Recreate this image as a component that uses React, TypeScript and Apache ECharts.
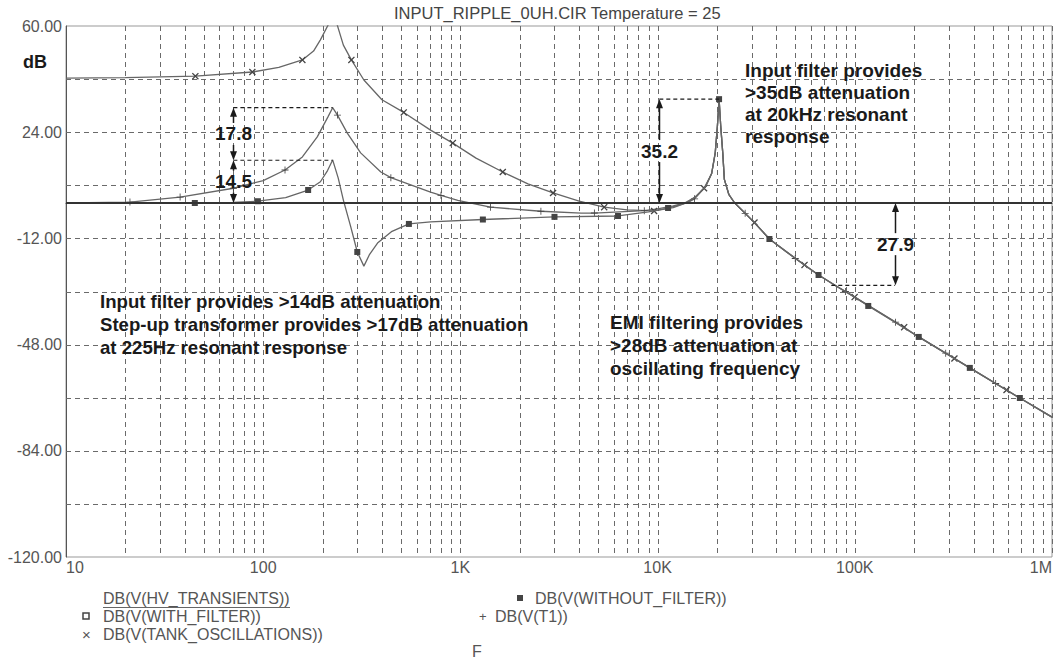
import React, { useEffect, useRef } from "react";
import * as echarts from "echarts";

const FONT = 'Arial, "Liberation Sans", Helvetica, sans-serif';

const TITLE = "INPUT_RIPPLE_0UH.CIR Temperature = 25";
const X_TICK_VALUES = [10, 100, 1000, 10000, 100000, 1000000];
const X_TICK_LABELS = ["10", "100", "1K", "10K", "100K", "1M"];
const Y_LABEL_VALUES = [-120, -84, -48, -12, 24, 60];
const Y_GRID_VALUES = [-102, -84, -66, -48, -30, -12, 6, 24, 42];
const DECADES = [10, 100, 1000, 10000, 100000];
const MINOR_STEPS = [2, 3, 4, 5, 6, 7, 8, 9, 10];

const NAME_HV = "DB(V(HV_TRANSIENTS))";
const NAME_WITH = "DB(V(WITH_FILTER))";
const NAME_WITHOUT = "DB(V(WITHOUT_FILTER))";
const NAME_T1 = "DB(V(T1))";
const NAME_TANK = "DB(V(TANK_OSCILLATIONS))";

const HV_TRANSIENTS: number[][] = [[10, 0], [1000000, 0]];
const WITH_FILTER: number[][] = [[10, 0], [1000000, 0]];

const WITHOUT_FILTER: number[][] = [
  [10, 0], [20, 0], [45, 0], [70, 0.2], [94, 0.6], [130, 1.8], [169, 4.4], [195, 7.2],
  [212, 11.0], [225, 14.6], [240, 8.5], [255, 1.0], [278, -8.1], [300, -16.6], [324, -21.4],
  [345, -17.6], [380, -13.6], [450, -9.6], [548, -7.1], [706, -6.4], [1300, -5.6], [3000, -4.7],
  [6300, -4.4], [9000, -3.0], [11300, -1.7], [13500, -0.3], [15500, 2.0], [17500, 5.5],
  [18800, 10], [19600, 17], [20100, 26], [20500, 35.2], [20900, 26], [21400, 17], [21800, 8],
  [23000, 2.8], [24600, 0], [29000, -4.7], [32400, -8.1], [36900, -12.2], [45000, -16.6],
  [55600, -21], [65500, -24.4], [78900, -27.8], [100000, -31.9], [117000, -34.9],
  [150000, -39.3], [211000, -45.4], [383000, -55.9], [687000, -66.1], [1000000, -72.6],
];
const WITHOUT_FILTER_MARKS = [45, 94, 169, 300, 548, 1300, 3000, 6300, 11300, 20500, 36900, 65500, 117000, 211000, 383000, 687000];

const T1: number[][] = [
  [10, 0], [21.1, 0.3], [37.9, 2.0], [70.6, 5.0], [100, 7.6], [129, 11.2], [158, 15.6],
  [188, 22.4], [213, 29.2], [225, 32.3], [238, 29.8], [267, 23.7], [312, 17.0], [395, 10.5],
  [444, 8.6], [706, 3.7], [797, 2.6], [970, 0.9], [1420, -1.4], [2560, -2.8], [4100, -3.4],
  [4780, -3.4], [8560, -2.6], [10000, -2.0], [12000, -1.0], [14300, 0.3], [15400, 1.4],
  [17500, 5.5], [18800, 10], [19600, 17], [20100, 26], [20500, 35.2], [20900, 26], [21400, 17],
  [21800, 8], [23000, 2.8], [24600, 0], [27800, -3.5], [32400, -8.1], [36900, -12.2],
  [49900, -18.8], [55600, -21], [65500, -24.4], [78900, -27.8], [89600, -30.0], [100000, -31.9],
  [161000, -40.4], [211000, -45.4], [289000, -50.9], [383000, -55.9], [518000, -61.2],
  [687000, -66.1], [1000000, -72.6],
];
const T1_MARKS = [21.1, 37.9, 70.6, 129, 238, 444, 797, 1420, 2560, 4780, 8560, 15400, 27800, 49900, 89600, 161000, 289000, 518000];

const TANK_OSCILLATIONS: number[][] = [
  [10, 42.3], [20, 42.5], [45.3, 43.0], [88.1, 44.4], [120, 46.0], [158, 48.5], [180, 51.5],
  [195, 55.3], [214, 60.5], [225, 68], [237, 60.5], [255, 53.5], [280, 48.5], [324, 41.7],
  [400, 35.0], [516, 30.7], [706, 24.7], [915, 20.3], [1200, 15.2], [1640, 10.5], [2200, 6.5],
  [2950, 3.4], [4000, 0.6], [5360, -1.4], [7000, -2.3], [9600, -2.7], [12000, -1.6],
  [14300, 0.3], [15500, 2.0], [17200, 5.0], [18800, 10], [19600, 17], [20100, 26], [20500, 35.2],
  [20900, 26], [21400, 17], [21800, 8], [23000, 2.8], [24600, 0], [29000, -4.7], [31000, -6.6],
  [36900, -12.2], [55600, -21], [65500, -24.4], [78900, -27.8], [99800, -31.9], [178000, -42.1],
  [211000, -45.4], [320000, -52.7], [383000, -55.9], [588000, -63.4], [687000, -66.1],
  [1000000, -72.6],
];
const TANK_MARKS = [45.3, 88.1, 158, 280, 516, 915, 1640, 2950, 5360, 9600, 17200, 31000, 55600, 99800, 178000, 320000, 588000];

// measurement annotations
const ARROW_FREQS = [70.6, 70.6, 10200, 160000];
const ARROW_FROM = [14.5, 0, 0, -27.9];
const ARROW_TO = [32.3, 14.5, 35.2, 0];
const ARROW_LABELS = ["17.8", "14.5", "35.2", "27.9"];
// dashed reference levels
const LEVEL_FROM = [70.6, 70.6, 10200, 76000];
const LEVEL_TO = [225, 225, 20500, 160000];
const LEVEL_DB = [32.3, 14.5, 35.2, -27.9];

const NOTE_20K = ["Input filter provides", ">35dB attenuation", "at 20kHz resonant", "response"];
const NOTE_225 = [
  "Input filter provides >14dB attenuation",
  "Step-up transformer provides >17dB attenuation",
  "at 225Hz resonant response",
];
const NOTE_EMI = ["EMI filtering provides", ">28dB attenuation at", "oscillating frequency"];

const SYM_X = "path://M0,1.3L1.3,0L5,3.7L8.7,0L10,1.3L6.3,5L10,8.7L8.7,10L5,6.3L1.3,10L0,8.7L3.7,5Z";
const SYM_PLUS = "path://M4.4,0H5.6V4.4H10V5.6H5.6V10H4.4V5.6H0V4.4H4.4Z";

function curve(name: string, data: number[][], marks: number[], symbol: string, size: number, z: number) {
  const set = new Set(marks);
  return {
    name,
    type: "line",
    data,
    z,
    showSymbol: true,
    symbol: (v: number[]) => (set.has(v[0]) ? symbol : "none"),
    symbolSize: size,
    lineStyle: { color: "#666", width: 1.3 },
    itemStyle: { color: "#444" },
    emphasis: { disabled: true },
    silent: true,
    animation: false,
  };
}

export default function App() {
  const ref = useRef<HTMLDivElement>(null);
  useEffect(() => {
    const el = ref.current!;
    const chart = echarts.init(el, null, { renderer: "svg" });
    const xGrid: number[] = [];
    DECADES.forEach((d) => MINOR_STEPS.forEach((m) => xGrid.push(d * m)));

    const option: any = {
      animation: false,
      backgroundColor: "#fff",
      title: {
        text: TITLE,
        left: 394,
        top: 4,
        padding: 0,
        textStyle: { fontSize: 16.5, fontWeight: "normal", color: "#444", fontFamily: FONT },
      },
      grid: { left: 66, right: 8, top: 26, bottom: 101, show: true, borderColor: "#999", borderWidth: 1, backgroundColor: "transparent" },
      xAxis: {
        type: "log",
        logBase: 10,
        min: 10,
        max: 1000000,
        axisLine: { show: true, lineStyle: { color: "#555", width: 1 } },
        axisTick: { show: false },
        splitLine: { show: false },
        axisLabel: {
          color: "#555",
          fontSize: 16,
          fontFamily: FONT,
          margin: 2,
          alignMinLabel: "left",
          alignMaxLabel: "right",
          formatter: (v: number) => {
            const i = X_TICK_VALUES.findIndex((t) => Math.abs(t - v) / t < 1e-6);
            return i >= 0 ? X_TICK_LABELS[i] : "";
          },
        },
      },
      yAxis: {
        type: "value",
        min: -120,
        max: 60,
        axisLine: { show: true, lineStyle: { color: "#555", width: 1 } },
        axisTick: { show: false },
        splitLine: { show: false },
        axisLabel: {
          customValues: Y_LABEL_VALUES,
          color: "#555",
          fontSize: 16,
          fontFamily: FONT,
          margin: 4,
          formatter: (v: number) => v.toFixed(2),
        },
      },
      series: [
        curve(NAME_TANK, TANK_OSCILLATIONS, TANK_MARKS, SYM_X, 7, 3),
        curve(NAME_T1, T1, T1_MARKS, SYM_PLUS, 7, 3),
        curve(NAME_WITHOUT, WITHOUT_FILTER, WITHOUT_FILTER_MARKS, "rect", 6, 4),
        {
          ...curve(NAME_WITH, WITH_FILTER, [], "emptyRect", 6, 4),
          lineStyle: { color: "#444", width: 1.2 },
        },
        {
          ...curve(NAME_HV, HV_TRANSIENTS, [], "none", 1, 5),
          lineStyle: { color: "#333", width: 1.8 },
        },
      ],
    };
    chart.setOption(option);

    const px = (f: number, v: number) =>
      chart.convertToPixel({ xAxisIndex: 0, yAxisIndex: 0 }, [f, v]) as number[];

    const INK = "#1a1a1a";
    const GRID_STYLE = { stroke: "#6a6a6a", lineWidth: 1, lineDash: [5, 4] };
    const bold = (text: string, x: number, y: number, extra: any = {}) => ({
      type: "text",
      z: 20,
      silent: true,
      style: {
        text,
        x,
        y,
        fill: INK,
        fontSize: 19,
        fontWeight: "bold",
        fontFamily: FONT,
        textAlign: "left",
        textVerticalAlign: "top",
        align: "left",
        verticalAlign: "top",
        ...extra,
      },
    });
    const plain = (text: string, x: number, y: number, extra: any = {}) => ({
      type: "text",
      z: 20,
      silent: true,
      style: {
        text,
        x,
        y,
        fill: "#555",
        fontSize: 16,
        fontFamily: FONT,
        textAlign: "left",
        textVerticalAlign: "middle",
        align: "left",
        verticalAlign: "middle",
        ...extra,
      },
    });

    const g: any[] = [];
    // grid lines (behind the curves)
    const yTop = px(10, 60)[1];
    const yBot = px(10, -120)[1];
    const xLeft = px(10, 0)[0];
    const xRight = px(1000000, 0)[0];
    xGrid.forEach((f) => {
      const x = Math.round(px(f, 0)[0]) + 0.5;
      g.push({ type: "line", z: 1, silent: true, shape: { x1: x, y1: yTop, x2: x, y2: yBot }, style: GRID_STYLE });
    });
    Y_GRID_VALUES.forEach((v) => {
      const y = Math.round(px(10, v)[1]) + 0.5;
      g.push({ type: "line", z: 1, silent: true, shape: { x1: xLeft, y1: y, x2: xRight, y2: y }, style: GRID_STYLE });
    });
    // dashed levels
    LEVEL_DB.forEach((v, i) => {
      const a = px(LEVEL_FROM[i], v);
      const b = px(LEVEL_TO[i], v);
      g.push({
        type: "line",
        z: 15,
        silent: true,
        shape: { x1: a[0], y1: a[1], x2: b[0], y2: b[1] },
        style: { stroke: INK, lineWidth: 1.2, lineDash: [4, 3] },
      });
    });
    // arrows
    ARROW_FREQS.forEach((f, i) => {
      const top = px(f, ARROW_TO[i]);
      const bot = px(f, ARROW_FROM[i]);
      const x = Math.round(top[0]) + 0.5;
      const yt = top[1];
      const yb = bot[1];
      const mid = (yt + yb) / 2;
      const gap = 11;
      const head = 9;
      g.push({ type: "line", z: 15, silent: true, shape: { x1: x, y1: yt + head - 1, x2: x, y2: mid - gap }, style: { stroke: INK, lineWidth: 1.5 } });
      g.push({ type: "line", z: 15, silent: true, shape: { x1: x, y1: mid + gap, x2: x, y2: yb - head + 1 }, style: { stroke: INK, lineWidth: 1.5 } });
      g.push({ type: "polygon", z: 15, silent: true, shape: { points: [[x, yt], [x - 3.5, yt + head], [x + 3.5, yt + head]] }, style: { fill: INK } });
      g.push({ type: "polygon", z: 15, silent: true, shape: { points: [[x, yb], [x - 3.5, yb - head], [x + 3.5, yb - head]] }, style: { fill: INK } });
      g.push(bold(ARROW_LABELS[i], x, mid, { textAlign: "center", align: "center", textVerticalAlign: "middle", verticalAlign: "middle" }));
    });
    // notes
    g.push(bold(NOTE_20K.join("\n"), 745, 59, { lineHeight: 22 }));
    g.push(bold(NOTE_225.join("\n"), 100, 290, { lineHeight: 23, fontSize: 18.6 }));
    g.push(bold(NOTE_EMI.join("\n"), 610, 311, { lineHeight: 23 }));
    // axis unit
    g.push(bold("dB", 23, 62, { fontSize: 18, textVerticalAlign: "middle", verticalAlign: "middle" }));
    // legend
    g.push(plain(NAME_HV, 103, 598));
    g.push({ type: "line", z: 20, silent: true, shape: { x1: 103, y1: 607.5, x2: 290, y2: 607.5 }, style: { stroke: "#666", lineWidth: 1 } });
    g.push({ type: "rect", z: 20, silent: true, shape: { x: 83, y: 613, width: 6, height: 6 }, style: { fill: "#fff", stroke: "#444", lineWidth: 1.5 } });
    g.push(plain(NAME_WITH, 103, 616));
    g.push(plain("×", 82, 634, { fontSize: 15 }));
    g.push(plain(NAME_TANK, 103, 634));
    g.push({ type: "rect", z: 20, silent: true, shape: { x: 517, y: 595, width: 6, height: 6 }, style: { fill: "#444" } });
    g.push(plain(NAME_WITHOUT, 535, 598));
    g.push(plain("+", 479, 616, { fontSize: 13 }));
    g.push(plain(NAME_T1, 495, 616));
    g.push(plain("F", 472, 651));

    chart.setOption({ graphic: g });
    return () => chart.dispose();
  }, []);
  return (
    <div
      ref={ref}
      style={{ position: "absolute", left: 0, top: 0, width: 1060, height: 658, background: "#fff" }}
    />
  );
}
